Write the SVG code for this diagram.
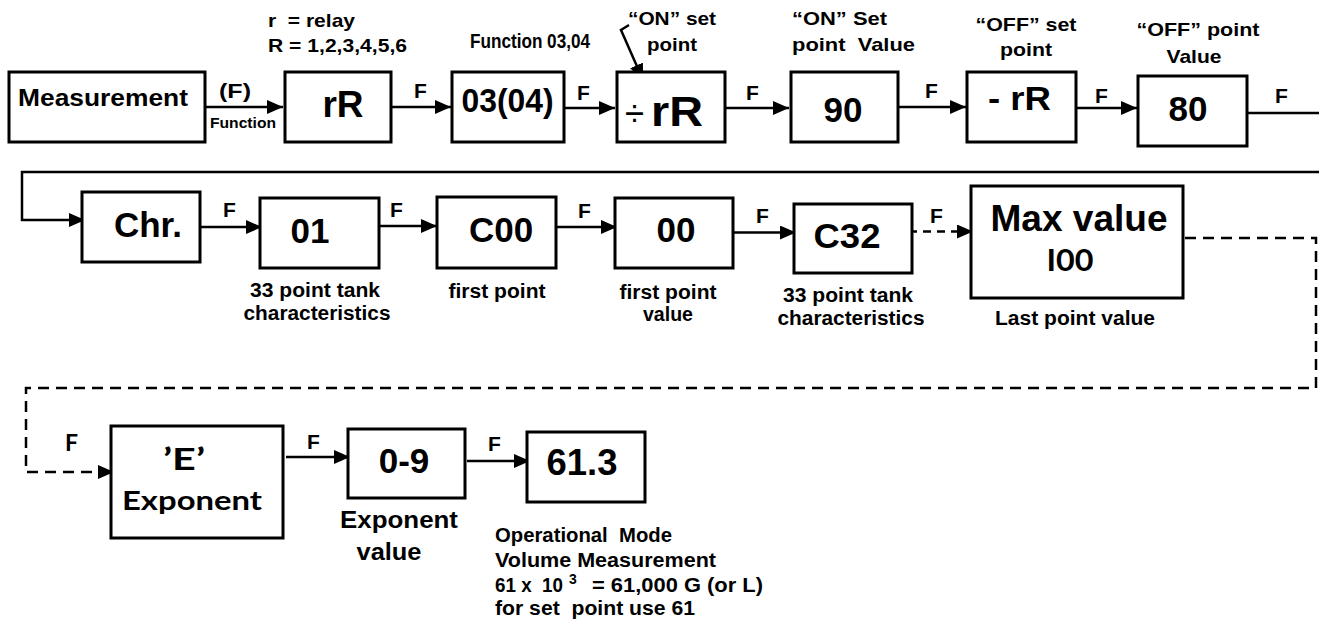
<svg xmlns="http://www.w3.org/2000/svg" width="1319" height="619" viewBox="0 0 1319 619">
<style>
.box{fill:#fff;stroke:#000;stroke-width:3}
.t{font-family:"Liberation Sans",Arial,sans-serif;font-weight:bold;fill:#000}
.g{font-family:Lato,"Open Sans","Liberation Sans",sans-serif;font-weight:bold;fill:#000}
.c{text-anchor:middle}
.big{font-size:35px}
.lbl{font-size:20px}
.hd{font-size:19px}
.f{font-size:21px}
.conn{fill:none;stroke:#000;stroke-width:2.5}
.dl{stroke-dasharray:11 7}
.ds{stroke-dasharray:8 6}
</style>
<defs>
<marker id="ah" markerUnits="userSpaceOnUse" markerWidth="16" markerHeight="14" refX="16" refY="7" orient="auto">
<path d="M0,0 L16,7 L0,14 z" fill="#000"/>
</marker>
</defs>
<rect width="1319" height="619" fill="#fff"/>

<g id="connectors">
<path class="conn" d="M205,107 H283" marker-end="url(#ah)"/>
<path class="conn" d="M391,107 H451" marker-end="url(#ah)"/>
<path class="conn" d="M564,108 H615" marker-end="url(#ah)"/>
<path class="conn" d="M725,108 H789" marker-end="url(#ah)"/>
<path class="conn" d="M898,107 H966" marker-end="url(#ah)"/>
<path class="conn" d="M1073,108 H1137" marker-end="url(#ah)"/>
<path class="conn" d="M1245,113 H1330 V172 H22 V220 H85" marker-end="url(#ah)"/>
<path class="conn" d="M629,25 L621,30 L643,80" marker-end="url(#ah)"/>
<path class="conn" d="M200,227 H262" marker-end="url(#ah)"/>
<path class="conn" d="M377,226 H437" marker-end="url(#ah)"/>
<path class="conn" d="M554,227 H617" marker-end="url(#ah)"/>
<path class="conn" d="M733,232.5 H796" marker-end="url(#ah)"/>
<path class="conn ds" d="M909,231.5 H973" marker-end="url(#ah)"/>
<path class="conn dl" d="M1185,238 H1316 V388 H26 V472 H114" marker-end="url(#ah)"/>
<path class="conn" d="M286,457 H350" marker-end="url(#ah)"/>
<path class="conn" d="M467,461 H530" marker-end="url(#ah)"/>
<text class="t f" x="219" y="98" textLength="32" lengthAdjust="spacingAndGlyphs">(F)</text>
<text class="t" x="210" y="128" font-size="15" textLength="66" lengthAdjust="spacingAndGlyphs">Function</text>
<text class="t f" x="414" y="98">F</text>
<text class="t f" x="577" y="100">F</text>
<text class="t f" x="746" y="100">F</text>
<text class="t f" x="925" y="98">F</text>
<text class="t f" x="1095" y="103">F</text>
<text class="t f" x="1275" y="103">F</text>
<text class="t f" x="223" y="217">F</text>
<text class="t f" x="390" y="217">F</text>
<text class="t f" x="578" y="218">F</text>
<text class="t f" x="756" y="223">F</text>
<text class="t f" x="930" y="223">F</text>
<text class="g" x="65" y="451" font-size="23">F</text>
<text class="t f" x="307" y="449">F</text>
<text class="t f" x="488" y="451">F</text>
</g>

<g id="labels">
<text class="t hd" x="268" y="27" textLength="87" lengthAdjust="spacingAndGlyphs" xml:space="preserve">r  = relay</text>
<text class="t hd" x="268" y="52" textLength="139" lengthAdjust="spacingAndGlyphs">R = 1,2,3,4,5,6</text>
<text class="t" x="470" y="48" font-size="20" textLength="120" lengthAdjust="spacingAndGlyphs">Function 03,04</text>
<text class="t hd c" x="672" y="25" textLength="88" lengthAdjust="spacingAndGlyphs">“ON” set</text>
<text class="t hd c" x="672" y="51" textLength="50" lengthAdjust="spacingAndGlyphs">point</text>
<text class="t hd" x="792" y="25" textLength="95" lengthAdjust="spacingAndGlyphs">“ON” Set</text>
<text class="t hd" x="792" y="51" textLength="123" lengthAdjust="spacingAndGlyphs" xml:space="preserve">point  Value</text>
<text class="t hd c" x="1026" y="31" textLength="101" lengthAdjust="spacingAndGlyphs">“OFF” set</text>
<text class="t hd c" x="1026" y="56" textLength="52" lengthAdjust="spacingAndGlyphs">point</text>
<text class="t hd c" x="1198" y="36" textLength="123" lengthAdjust="spacingAndGlyphs">“OFF” point</text>
<text class="t hd c" x="1194" y="63" textLength="55" lengthAdjust="spacingAndGlyphs">Value</text>
<text class="t lbl c" x="315" y="297" textLength="130" lengthAdjust="spacingAndGlyphs">33 point tank</text>
<text class="t lbl c" x="317" y="320" textLength="147" lengthAdjust="spacingAndGlyphs">characteristics</text>
<text class="t lbl c" x="497" y="298" textLength="97" lengthAdjust="spacingAndGlyphs">first point</text>
<text class="t lbl c" x="668" y="299" textLength="97" lengthAdjust="spacingAndGlyphs">first point</text>
<text class="t lbl c" x="668" y="321" textLength="50" lengthAdjust="spacingAndGlyphs">value</text>
<text class="t lbl c" x="848" y="302" textLength="130" lengthAdjust="spacingAndGlyphs">33 point tank</text>
<text class="t lbl c" x="851" y="325" textLength="147" lengthAdjust="spacingAndGlyphs">characteristics</text>
<text class="t lbl c" x="1075" y="325" textLength="160" lengthAdjust="spacingAndGlyphs">Last point value</text>
<text class="t c" x="399" y="528" font-size="24" textLength="118" lengthAdjust="spacingAndGlyphs">Exponent</text>
<text class="t c" x="389" y="560" font-size="24" textLength="65" lengthAdjust="spacingAndGlyphs">value</text>
<text class="t lbl" x="495" y="542" textLength="177" lengthAdjust="spacingAndGlyphs" xml:space="preserve">Operational  Mode</text>
<text class="t lbl" x="495" y="567" textLength="221" lengthAdjust="spacingAndGlyphs">Volume Measurement</text>
<text class="t lbl" x="495" y="592" xml:space="preserve"><tspan textLength="68" lengthAdjust="spacingAndGlyphs">61 x  10</tspan><tspan x="569" dy="-8" font-size="14">3</tspan><tspan x="592" dy="8" textLength="171" lengthAdjust="spacingAndGlyphs">= 61,000 G (or L)</tspan></text>
<text class="t lbl" x="495" y="615" textLength="200" lengthAdjust="spacingAndGlyphs" xml:space="preserve">for set  point use 61</text>
</g>

<g id="n-measurement">
<rect class="box" x="9" y="72" width="196" height="70"/>
<text class="t c" x="103" y="106" font-size="23" textLength="170" lengthAdjust="spacingAndGlyphs">Measurement</text>
</g>
<g id="n-rR">
<rect class="box" x="285" y="72" width="106" height="70"/>
<text class="t c" x="343" y="117" font-size="37">rR</text>
</g>
<g id="n-function">
<rect class="box" x="452" y="72" width="112" height="70"/>
<text class="t c" x="507.5" y="112" font-size="34" textLength="92" lengthAdjust="spacingAndGlyphs">03(04)</text>
</g>
<g id="n-on">
<rect class="box" x="617" y="72" width="108" height="70"/>
<text class="t" x="625" y="126"><tspan font-weight="normal" font-size="36" textLength="19" lengthAdjust="spacingAndGlyphs">÷</tspan><tspan x="651" font-size="42" textLength="52" lengthAdjust="spacingAndGlyphs">rR</tspan></text>
</g>
<g id="n-90">
<rect class="box" x="791" y="72" width="107" height="70"/>
<text class="t c big" x="843" y="122">90</text>
</g>
<g id="n-off">
<rect class="box" x="967" y="72" width="109" height="70"/>
<text class="t" x="988" y="110" font-size="33" textLength="63" lengthAdjust="spacingAndGlyphs">- rR</text>
</g>
<g id="n-80">
<rect class="box" x="1138" y="76" width="109" height="70"/>
<text class="t c big" x="1188" y="121">80</text>
</g>

<g id="n-chr">
<rect class="box" x="82" y="192" width="118" height="70"/>
<text class="t c big" x="148" y="237">Chr.</text>
</g>
<g id="n-01">
<rect class="box" x="260" y="198" width="119" height="70"/>
<text class="t c big" x="310" y="243">01</text>
</g>
<g id="n-c00">
<rect class="box" x="437" y="197" width="119" height="71"/>
<text class="t c big" x="501" y="242">C00</text>
</g>
<g id="n-00">
<rect class="box" x="615" y="198" width="118" height="70"/>
<text class="t c big" x="676" y="242">00</text>
</g>
<g id="n-c32">
<rect class="box" x="794" y="204" width="118" height="69"/>
<text class="t c big" x="847" y="248" textLength="67" lengthAdjust="spacingAndGlyphs">C32</text>
</g>
<g id="n-max">
<rect class="box" x="971" y="186" width="212" height="112"/>
<text class="t c" x="1079" y="231" font-size="37" textLength="177" lengthAdjust="spacingAndGlyphs">Max value</text>
<text class="g c" x="1070" y="271" font-size="31" textLength="47" lengthAdjust="spacingAndGlyphs">I00</text>
</g>

<g id="n-exponent">
<rect class="box" x="111" y="426" width="172" height="112"/>
<text class="g c" x="184" y="470" font-size="31" textLength="42" lengthAdjust="spacingAndGlyphs">’E’</text>
<text class="g c" x="192" y="510" font-size="26" textLength="140" lengthAdjust="spacingAndGlyphs">Exponent</text>
</g>
<g id="n-0-9">
<rect class="box" x="348" y="429" width="117" height="69"/>
<text class="t c big" x="404" y="473">0-9</text>
</g>
<g id="n-61-3">
<rect class="box" x="527" y="432" width="118" height="70"/>
<text class="t c" x="582" y="475" font-size="36" textLength="71" lengthAdjust="spacingAndGlyphs">61.3</text>
</g>
</svg>
